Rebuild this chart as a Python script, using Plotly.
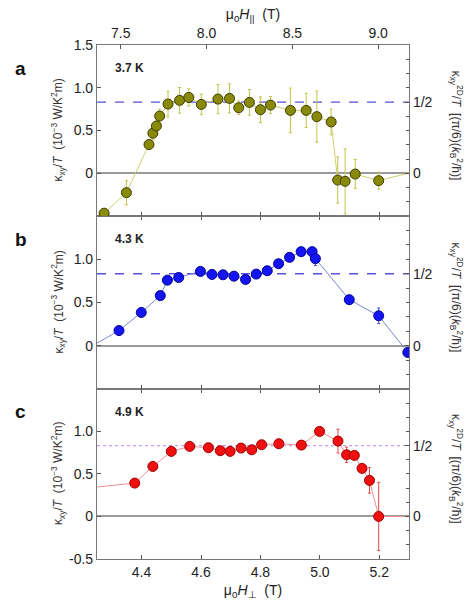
import math
import plotly.graph_objects as go

# Thermal Hall conductivity vs. perpendicular field at three temperatures
h_perp_range = [4.25, 5.30]
tilt_factor = math.tan(math.radians(60))  # H_parallel = tan(60 deg) * H_perp

temps = ["3.7 K", "4.3 K", "4.9 K"]

a_h = [4.274, 4.349, 4.425, 4.438, 4.450, 4.461, 4.489, 4.528, 4.559, 4.601, 4.657, 4.696,
       4.727, 4.763, 4.800, 4.834, 4.901, 4.954, 4.990, 5.038, 5.060, 5.085, 5.119, 5.198, 5.33]
a_k = [-0.465, -0.225, 0.337, 0.469, 0.554, 0.670, 0.810, 0.853, 0.888, 0.806, 0.868, 0.876,
       0.767, 0.829, 0.744, 0.798, 0.736, 0.736, 0.663, 0.601, -0.078, -0.093, -0.008, -0.085, 0.03]
a_err = [0.04, 0.14, 0.05, 0.08, 0.08, 0.08, 0.15, 0.15, 0.10, 0.12, 0.17, 0.17,
         0.08, 0.15, 0.15, 0.10, 0.26, 0.20, 0.30, 0.15, 0.27, 0.38, 0.17, 0.10, 0.0]

b_h = [4.22, 4.324, 4.399, 4.463, 4.487, 4.525, 4.598, 4.637, 4.674, 4.711, 4.750, 4.786,
       4.823, 4.861, 4.898, 4.937, 4.974, 4.985, 5.099, 5.198, 5.296]
b_k = [-0.03, 0.175, 0.385, 0.580, 0.759, 0.790, 0.860, 0.825, 0.821, 0.805, 0.767, 0.829,
       0.868, 0.949, 1.023, 1.089, 1.089, 1.008, 0.533, 0.346, -0.078]
b_err = [0.02, 0.02, 0.03, 0.03, 0.04, 0.02, 0.02, 0.02, 0.02, 0.02, 0.02, 0.02,
         0.03, 0.02, 0.02, 0.03, 0.05, 0.08, 0.03, 0.09, 0.03]

c_h = [4.15, 4.377, 4.438, 4.500, 4.562, 4.625, 4.665, 4.698, 4.735, 4.771, 4.804, 4.862,
       4.938, 4.999, 5.061, 5.090, 5.116, 5.142, 5.167, 5.198, 5.36]
c_k = [0.31, 0.392, 0.588, 0.765, 0.824, 0.808, 0.773, 0.765, 0.804, 0.784, 0.843, 0.855,
       0.839, 1.000, 0.886, 0.725, 0.718, 0.565, 0.424, 0.0, 0.0]
c_err = [0.0, 0.03, 0.03, 0.03, 0.03, 0.03, 0.03, 0.03, 0.03, 0.03, 0.03, 0.03,
         0.03, 0.03, 0.14, 0.09, 0.04, 0.04, 0.15, 0.40, 0.0]

# right-axis scale: quantized value in units of (pi/6)(kB^2/hbar)
quantum_ratio = 0.5 / 0.833
half_quantum = 0.5

bottom_ticks = [4.4, 4.6, 4.8, 5.0, 5.2]
bottom_labels = ["4.4", "4.6", "4.8", "5.0", "5.2"]
top_ticks = [7.5, 8.0, 8.5, 9.0]
top_labels = ["7.5", "8.0", "8.5", "9.0"]

FONT = "Liberation Sans, Arial, sans-serif"

panels = [
    # (h, k, err, x axis, y axis, right y axis, marker, outline, line, errcolor, dash colour, dash style)
    (a_h, a_k, a_err, "x3", "y3", "y6", "#8a8a0a", "#3d3d00", "#cfcf70", "#c4c44a", "#5a50d8", "dash"),
    (b_h, b_k, b_err, "x2", "y2", "y5", "#1414f0", "#00009a", "#7a86d6", "#4a4ad0", "#5a50d8", "dash"),
    (c_h, c_k, c_err, "x", "y", "y4", "#f01010", "#a00000", "#f09090", "#e04848", "#c49af5", "dot"),
]

fig = go.Figure()
shapes = []
for h, k, err, xa, ya, yr, mc, oc, lc, ec, dc, ds in panels:
    fig.add_trace(go.Scatter(
        x=h, y=k, xaxis=xa, yaxis=ya, mode="lines+markers",
        line=dict(color=lc, width=1),
        marker=dict(size=10, color=mc, line=dict(color=oc, width=1)),
        error_y=dict(type="data", array=err, visible=True, color=ec, thickness=1, width=1.5),
        showlegend=False,
    ))
    shapes.append(dict(type="line", xref=xa, yref=yr, x0=h_perp_range[0], x1=h_perp_range[1],
                       y0=half_quantum, y1=half_quantum, layer="below",
                       line=dict(color=dc, width=1.3, dash=ds)))

# invisible trace so the top field axis is drawn
fig.add_trace(go.Scatter(x=[], y=[], xaxis="x4", yaxis="y3", showlegend=False))

d_c = [0.0, 0.331]
d_b = [0.331, 0.667]
d_a = [0.667, 1.0]

tickfont = dict(family=FONT, size=14, color="#222")
common_x = dict(range=h_perp_range, ticks="inside", ticklen=4, tickcolor="#555",
                showline=True, linecolor="#777", linewidth=1.2, tickvals=bottom_ticks,
                ticktext=bottom_labels, showgrid=False, zeroline=False, tickfont=tickfont)
common_y = dict(range=[-0.5, 1.5], ticks="inside", ticklen=4, tickcolor="#555",
                showline=True, linecolor="#777", linewidth=1.2, showgrid=False,
                zeroline=True, zerolinecolor="#9a9a9a", zerolinewidth=1.5, tickfont=tickfont)
right_range = [-0.5 * quantum_ratio, 1.5 * quantum_ratio]
common_r = dict(range=right_range, side="right", ticks="inside", ticklen=4, tickcolor="#555",
                showline=True, linecolor="#777", linewidth=1.2, showgrid=False, zeroline=False,
                tickvals=[0, half_quantum], ticktext=["0", "1/2"], tickfont=tickfont,
                minor=dict(tickmode="linear", tick0=0, dtick=0.1, ticks="inside", ticklen=3,
                           tickcolor="#555"))

fig.update_layout(
    width=466, height=608,
    margin=dict(l=97, r=57, t=45, b=49),
    paper_bgcolor="white", plot_bgcolor="white",
    font=dict(family=FONT, size=13, color="#222"),
    xaxis=dict(common_x, anchor="y", mirror="ticks",
               title=dict(text="μ<sub>0</sub><i>H</i><sub>⊥</sub>  (T)", standoff=6,
                          font=dict(family=FONT, size=14))),
    xaxis2=dict(common_x, anchor="y2", matches="x", showticklabels=False, mirror="ticks"),
    xaxis3=dict(common_x, anchor="y3", matches="x", showticklabels=False, mirror=False),
    xaxis4=dict(range=[h_perp_range[0] * tilt_factor, h_perp_range[1] * tilt_factor],
                anchor="y3", overlaying="x3", side="top", ticks="inside", ticklen=4,
                tickcolor="#555", showline=True, linecolor="#777", linewidth=1.2,
                tickvals=top_ticks, ticktext=top_labels, showgrid=False,
                zeroline=False, tickfont=tickfont,
                title=dict(text="μ<sub>0</sub><i>H</i><sub>||</sub>  (T)", standoff=2,
                           font=dict(family=FONT, size=14))),
    yaxis=dict(common_y, domain=d_c, anchor="x", tickvals=[-0.5, 0, 0.5, 1.0],
               ticktext=["-0.5", "0", "0.5", "1.0"]),
    yaxis2=dict(common_y, domain=d_b, anchor="x2", tickvals=[0, 0.5, 1.0],
                ticktext=["0", "0.5", "1.0"]),
    yaxis3=dict(common_y, domain=d_a, anchor="x3", tickvals=[0, 0.5, 1.0, 1.5],
                ticktext=["0", "0.5", "1.0", "1.5"]),
    yaxis4=dict(common_r, overlaying="y", anchor="x"),
    yaxis5=dict(common_r, overlaying="y2", anchor="x2"),
    yaxis6=dict(common_r, overlaying="y3", anchor="x3"),
    shapes=shapes,
)

left_title = "κ<sub>xy</sub>/<i>T</i>  (10<sup>−3</sup> W/K<sup>2</sup>m)"
right_title = "κ<sub>xy</sub><sup>2D</sup>/<i>T</i>  [(π/6)(<i>k</i><sub>B</sub><sup>2</sup>/ħ)]"
annotations = []
for letter, temp, dom in zip(["a", "b", "c"], temps, [d_a, d_b, d_c]):
    mid = (dom[0] + dom[1]) / 2
    annotations.append(dict(text=f"<b>{letter}</b>", xref="paper", yref="paper",
                            x=-0.245, y=dom[1] - 0.045, xanchor="center", yanchor="middle",
                            showarrow=False, font=dict(family=FONT, size=19, color="#111")))
    annotations.append(dict(text=f"<b>{temp}</b>", xref="paper", yref="paper",
                            x=0.05, y=dom[1] - 0.045, xanchor="left", yanchor="middle",
                            showarrow=False, font=dict(family=FONT, size=12, color="#222")))
    annotations.append(dict(text=left_title, xref="paper", yref="paper", x=-0.125, y=mid,
                            xanchor="center", yanchor="middle", textangle=-90, showarrow=False,
                            font=dict(family=FONT, size=12, color="#333")))
    annotations.append(dict(text=right_title, xref="paper", yref="paper", x=1.15, y=mid + 0.01,
                            xanchor="center", yanchor="middle", textangle=90, showarrow=False,
                            font=dict(family=FONT, size=12, color="#333")))
fig.update_layout(annotations=annotations)

fig.write_html("out.html")
